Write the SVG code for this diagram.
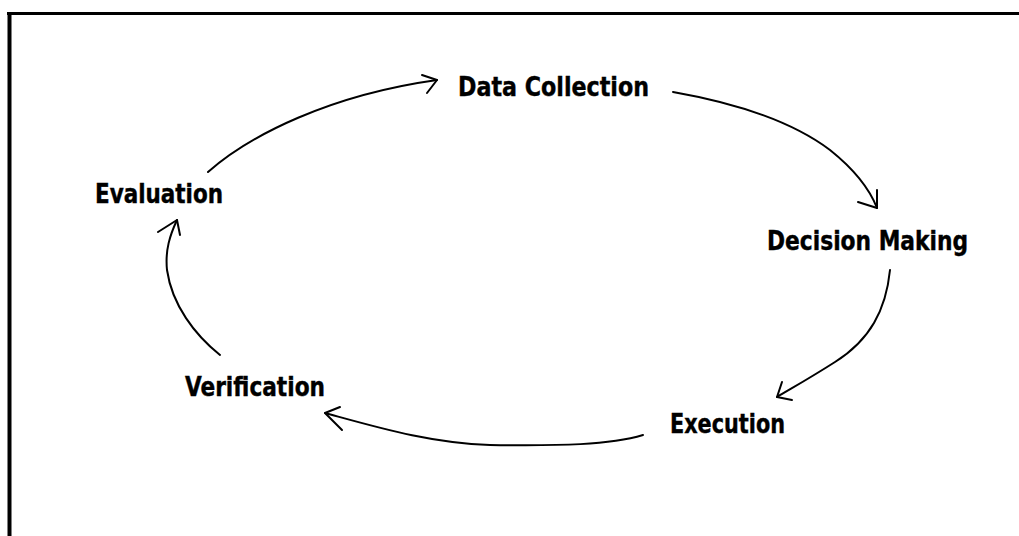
<svg xmlns="http://www.w3.org/2000/svg" width="1019" height="536" viewBox="0 0 1019 536">
<style>
.lbl{font-family:"DejaVu Sans Condensed","DejaVu Sans","Liberation Sans",sans-serif;font-weight:bold;font-stretch:condensed;font-size:27px;fill:#000;stroke:#000;stroke-width:0.4}
.c{fill:none;stroke:#000;stroke-width:2;stroke-linecap:round;stroke-linejoin:round}
.frame{fill:none;stroke:#000}
</style>
<rect width="1019" height="536" fill="#fff"/>
<g id="frame">
<line class="frame" x1="7" y1="13.5" x2="1019" y2="13.5" stroke-width="3"/>
<line class="frame" x1="9.5" y1="12" x2="9.5" y2="536" stroke-width="4"/>
</g>
<g id="connectors">
<path class="c" d="M208,172 C250,135 330,95 437,80"/>
<path class="c" d="M422,75 L437,80 L427,93"/>
<path class="c" d="M673,92 C730,102 790,120 830,150 C855,170 870,190 877,208"/>
<path class="c" d="M858,202 L877,208 L877,190"/>
<path class="c" d="M890,270 C886,310 870,340 835,362 C810,378 792,388 777,397"/>
<path class="c" d="M782,382 L777,397 L792,400"/>
<path class="c" d="M643,435 C610,445 560,446 490,445 C430,443 380,428 325,413"/>
<path class="c" d="M340,407 L325,413 L342,430"/>
<path class="c" d="M220,355 C195,335 172,305 167,270 C165,250 170,235 177,220"/>
<path class="c" d="M158,232 L177,220 L180,235"/>
</g>
<g id="data-collection"><text class="lbl" x="458" y="96" textLength="191" lengthAdjust="spacingAndGlyphs">Data Collection</text></g>
<g id="decision-making"><text class="lbl" x="767" y="250" textLength="201" lengthAdjust="spacingAndGlyphs">Decision Making</text></g>
<g id="execution"><text class="lbl" x="670" y="433" textLength="115" lengthAdjust="spacingAndGlyphs">Execution</text></g>
<g id="verification"><text class="lbl" x="185" y="396" textLength="140" lengthAdjust="spacingAndGlyphs">Verification</text></g>
<g id="evaluation"><text class="lbl" x="95" y="203" textLength="128" lengthAdjust="spacingAndGlyphs">Evaluation</text></g>
</svg>
